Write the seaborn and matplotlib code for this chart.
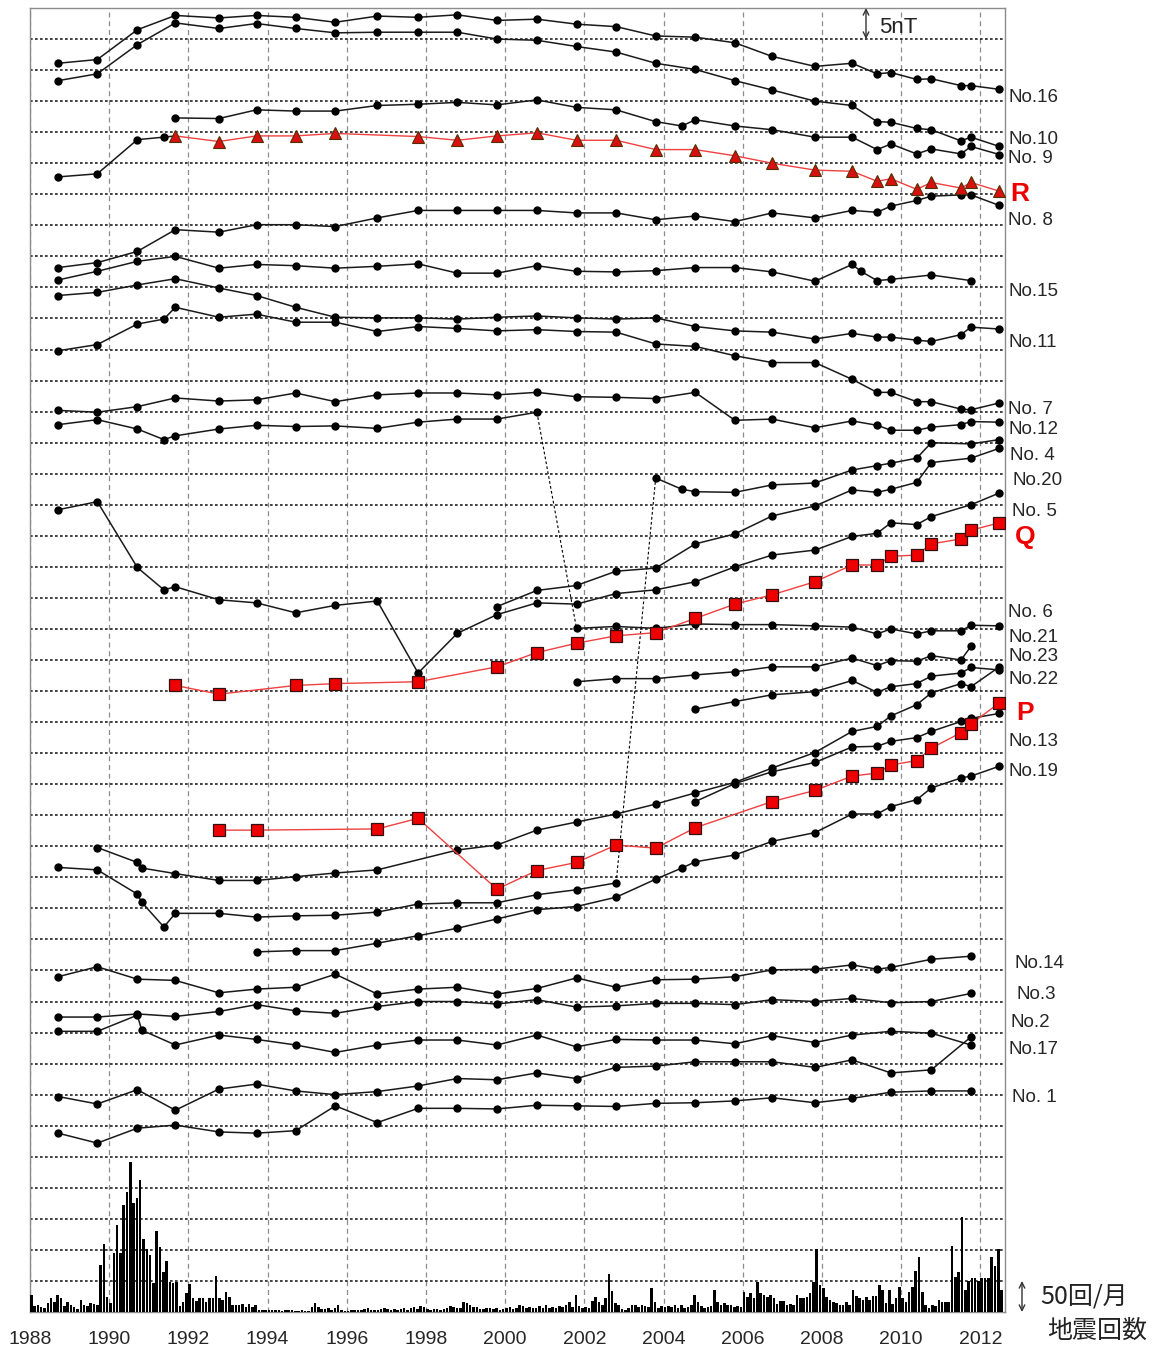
import matplotlib
matplotlib.use("Agg")
import numpy as np
import pandas as pd
import matplotlib.pyplot as plt
import seaborn as sns

sns.set_style("white")
plt.rcParams['font.family'] = ['Liberation Sans', 'DejaVu Sans']

# survey epochs (decimal year)
T = [1988.71, 1989.70, 1990.71, 1991.67, 1992.77, 1993.72, 1994.71, 1995.71,
     1996.77, 1997.80, 1998.79, 1999.79, 2000.80, 2001.80, 2002.80, 2003.80,
     2004.80, 2005.80, 2006.74, 2007.82, 2008.76, 2009.39, 2009.74, 2010.39,
     2010.76, 2011.51, 2011.76, 2012.48]

# relative total force (nT, offset per station)
no16_t = T
no16_v = [201.1, 201.7, 206.5, 208.8, 208.4, 208.8, 208.5, 207.7, 208.7, 208.5, 208.9, 208.0, 208.2, 207.4,
          207.0, 205.5, 205.3, 204.4, 202.2, 200.6, 201.1, 199.4, 199.6, 198.5, 198.6, 197.5, 197.5, 196.9]
no10_t = T
no10_v = [198.3, 199.4, 204.1, 207.6, 206.7, 207.5, 206.7, 206.0, 206.1, 206.1, 206.1, 205.0, 204.8, 203.8,
          202.9, 201.1, 200.1, 198.3, 196.8, 195.0, 194.3, 191.7, 191.6, 190.6, 190.4, 188.6, 189.2, 187.7]
no9_t = T[3:16] + [2004.46] + T[16:]
no9_v = [192.3, 192.2, 193.6, 193.4, 193.4, 194.3, 194.5, 194.8, 194.4, 195.2, 194.0, 193.6, 191.7, 191.0,
         192.0, 191.0, 190.4, 189.2, 189.2, 187.2, 188.1, 186.5, 187.3, 186.5, 187.7, 186.4]
r_lead_t = T[:3] + [1991.38, T[3]]
r_lead_v = [182.8, 183.3, 188.8, 189.2, 189.4]
r_t = T[3:8] + T[9:]
r_v = [189.4, 188.5, 189.4, 189.4, 189.8, 189.3, 188.7, 189.4, 189.9, 188.7, 188.7, 187.2, 187.2, 186.2,
       185.0, 183.9, 183.7, 182.1, 182.5, 180.8, 181.9, 181.0, 181.9, 180.5]
no8_t = T
no8_v = [168.2, 169.0, 170.8, 174.3, 173.9, 175.1, 175.1, 174.8, 176.2, 177.4, 177.4, 177.4, 177.4, 177.0,
         177.0, 175.9, 176.5, 175.6, 177.0, 176.2, 177.4, 177.1, 178.1, 179.0, 179.7, 179.9, 179.9, 178.2]
no15_t = T[:21] + [2008.98, T[21], T[22], T[24], T[26]]
no15_v = [166.2, 167.6, 169.2, 170.0, 168.1, 168.7, 168.5, 168.1, 168.4, 168.8, 167.3, 167.3, 168.5, 167.6,
          167.5, 167.7, 168.2, 168.2, 167.5, 166.0, 168.7, 167.6, 166.1, 166.3, 167.0, 166.1]
no11_t = T
no11_v = [163.7, 164.2, 165.4, 166.4, 164.9, 163.7, 161.8, 160.2, 160.1, 160.1, 159.9, 160.2, 160.4, 160.1,
          159.9, 160.1, 158.7, 158.0, 157.8, 156.7, 157.6, 157.0, 157.0, 156.5, 156.3, 157.4, 158.6, 158.3]
no7_t = T[:3] + [1991.38] + T[3:]
no7_v = [154.8, 155.8, 159.1, 159.9, 161.8, 160.2, 160.7, 159.4, 159.4, 157.9, 158.7, 158.4, 158.0, 158.2,
         157.9, 157.8, 155.9, 155.5, 154.0, 152.9, 152.9, 150.2, 148.1, 148.1, 146.6, 146.6, 145.4, 145.3, 146.4]
no12_t = T
no12_v = [145.2, 144.9, 145.8, 147.2, 146.7, 146.9, 148.0, 146.6, 147.7, 148.0, 148.0, 147.7, 148.1, 147.4,
          147.3, 147.1, 148.1, 143.6, 143.8, 142.4, 143.5, 142.8, 142.0, 142.0, 142.5, 142.9, 143.4, 143.3]
old_a_t = T[:3] + [1991.38] + T[3:13]
old_a_v = [142.9, 143.7, 142.2, 140.5, 141.1, 142.2, 142.8, 142.6, 142.7, 142.3, 143.3, 143.8, 143.8, 144.9]
no21_t = T[13:]
no21_v = [110.1, 110.4, 110.1, 110.8, 110.7, 110.7, 110.5, 110.3, 109.2, 110.0, 109.2, 109.7, 109.7, 110.6, 110.5]
no4_t = [T[15], 2004.46] + T[16:25] + [T[26], T[27]]
no4_v = [134.3, 132.5, 132.1, 132.0, 133.2, 133.5, 135.6, 136.3, 136.7, 137.5, 140.0, 139.8, 140.5]
no20_t = T[11:25] + [T[26], T[27]]
no20_v = [113.6, 116.2, 117.0, 119.3, 119.8, 123.7, 125.3, 128.2, 129.8, 132.4, 132.0, 132.5, 133.6, 136.8,
          137.5, 139.1]
no5_t = T[:3] + [1991.38] + T[3:25] + [T[26], T[27]]
no5_v = [129.2, 130.5, 119.9, 116.3, 116.8, 114.7, 114.2, 112.6, 113.8, 114.5, 102.9, 109.3, 112.3, 114.2,
         114.0, 115.7, 116.3, 117.6, 120.0, 121.9, 122.7, 124.9, 125.4, 127.1, 126.8, 128.1, 130.0, 131.9]
q_t = [T[3], T[4], T[6], T[7], T[9]] + T[11:]
q_v = [100.9, 99.5, 100.9, 101.2, 101.5, 103.9, 106.2, 107.7, 108.9, 109.4, 111.7, 114.0, 115.5, 117.6,
       120.3, 120.3, 121.7, 121.9, 123.7, 124.5, 125.9, 127.1]
no23_t = T[13:27]
no23_v = [101.5, 102.0, 102.0, 102.6, 103.1, 103.9, 103.9, 105.3, 104.1, 104.9, 104.8, 105.7, 105.0, 107.2]
no22_t = T[16:]
no22_v = [97.1, 98.3, 99.4, 99.9, 101.7, 99.8, 100.7, 101.2, 102.4, 102.9, 103.8, 103.4]
p_t = [T[4], T[5], T[8], T[9]] + T[11:17] + T[18:]
p_v = [77.6, 77.6, 77.8, 79.5, 68.1, 71.1, 72.4, 75.2, 74.7, 78.0, 82.2, 84.0, 86.3, 86.8, 88.1, 88.8,
       90.8, 93.3, 94.7, 98.1]
no13_t = [T[1], T[2], 1990.82] + T[3:9] + T[10:]
no13_v = [74.8, 72.4, 71.5, 70.6, 69.5, 69.5, 70.1, 70.7, 71.2, 74.4, 75.2, 77.6, 78.9, 80.2, 81.8, 83.6,
          85.3, 87.6, 90.1, 93.5, 94.3, 96.0, 97.8, 99.7, 101.2, 100.7, 103.9]
no13b_t = T[16:]
no13b_v = [82.2, 85.1, 87.0, 88.5, 91.0, 91.1, 91.9, 92.5, 93.5, 95.1, 95.6, 96.4]
old_b_t = T[:3] + [1990.82, 1991.38] + T[3:15]
old_b_v = [71.6, 71.2, 67.3, 66.0, 62.0, 64.2, 64.2, 63.6, 63.8, 63.9, 64.4, 65.7, 65.9, 65.9, 67.2, 68.0, 69.1]
no19_t = T[5:16] + [2004.46] + T[16:]
no19_v = [58.0, 58.2, 58.2, 59.4, 60.6, 61.8, 63.3, 64.8, 65.3, 66.8, 69.7, 71.5, 72.5, 73.6, 75.8, 77.2,
          80.2, 80.2, 81.4, 82.5, 84.4, 86.0, 86.3, 87.9]
no14_t = T[:23] + [T[24], T[26]]
no14_v = [54.0, 55.6, 53.6, 53.4, 51.4, 52.0, 52.3, 54.4, 51.2, 52.0, 52.3, 51.2, 52.1, 53.8, 52.3, 53.5,
          53.6, 54.0, 55.1, 55.2, 55.9, 55.2, 55.5, 56.8, 57.3]
no3_t = T[:21] + [T[22], T[24], T[26]]
no3_v = [47.5, 47.5, 48.0, 47.6, 48.4, 49.5, 48.5, 48.1, 49.2, 50.0, 50.0, 49.6, 50.3, 49.1, 49.3, 49.7,
         49.7, 49.5, 50.3, 50.0, 50.5, 49.8, 50.0, 51.3]
no2_t = T[:3] + [1990.82] + T[3:21] + [T[22], T[24], T[26]]
no2_v = [45.2, 45.2, 47.8, 45.4, 43.0, 44.6, 43.9, 43.0, 41.8, 43.0, 43.8, 43.8, 43.0, 44.6, 42.7, 43.9,
         43.8, 43.8, 43.2, 44.5, 43.4, 44.6, 45.2, 44.9, 43.0]
no17_t = T[:21] + [T[22], T[24], T[26]]
no17_v = [34.7, 33.5, 35.8, 32.5, 35.9, 36.7, 35.6, 35.0, 35.5, 36.4, 37.6, 37.4, 38.5, 37.6, 39.4, 39.6,
          40.3, 40.3, 40.3, 39.4, 40.6, 38.5, 39.0, 44.3]
no1_t = T[:21] + [T[22], T[24], T[26]]
no1_v = [28.8, 27.2, 29.6, 30.1, 29.0, 28.8, 29.2, 33.2, 30.5, 32.8, 32.8, 32.7, 33.3, 33.2, 33.1, 33.6,
         33.7, 34.0, 34.5, 33.7, 34.4, 35.4, 35.6, 35.6]

# monthly earthquake counts, Jan 1988 onward
quakes = [
    28, 10, 12, 8, 7, 14, 22, 16, 27, 22, 10, 16,
    12, 8, 5, 20, 11, 9, 15, 13, 12, 75, 110, 24,
    15, 95, 140, 95, 172, 193, 242, 175, 183, 213, 118, 101,
    91, 46, 131, 105, 65, 82, 48, 47, 48, 9, 16, 31,
    45, 23, 18, 23, 23, 16, 22, 23, 58, 22, 20, 32,
    24, 11, 12, 11, 13, 8, 13, 8, 11, 4, 3, 4,
    4, 3, 4, 4, 2, 4, 3, 4, 2, 2, 3, 1,
    2, 8, 15, 8, 5, 5, 6, 4, 7, 11, 3, 2,
    2, 3, 4, 3, 4, 5, 6, 4, 3, 4, 5, 7,
    5, 4, 5, 4, 5, 6, 4, 7, 8, 5, 9, 8,
    5, 4, 5, 5, 4, 5, 7, 9, 8, 6, 7, 16,
    15, 12, 8, 8, 5, 5, 6, 7, 5, 6, 4, 5,
    6, 8, 5, 7, 12, 9, 7, 8, 6, 7, 10, 6,
    11, 7, 8, 6, 9, 8, 12, 16, 8, 27, 9, 6,
    8, 6, 18, 24, 16, 12, 22, 61, 34, 15, 12, 5,
    3, 6, 12, 12, 8, 12, 9, 8, 39, 16, 6, 9,
    8, 10, 8, 12, 7, 12, 6, 8, 12, 28, 16, 9,
    6, 8, 9, 35, 16, 12, 15, 12, 11, 8, 9, 8,
    32, 24, 30, 22, 49, 30, 27, 24, 28, 22, 13, 18,
    18, 11, 13, 12, 27, 23, 23, 24, 30, 48, 102, 43,
    39, 24, 20, 16, 15, 12, 12, 16, 11, 36, 25, 22,
    19, 24, 20, 25, 26, 43, 35, 15, 35, 13, 22, 41,
    22, 16, 32, 40, 66, 89, 32, 12, 6, 11, 9, 20,
    16, 16, 16, 106, 56, 65, 153, 36, 50, 55, 55, 50,
    55, 55, 54, 88, 74, 102, 36,
]

black_series = [(no16_t, no16_v), (no10_t, no10_v), (no9_t, no9_v), (no8_t, no8_v),
                (no15_t, no15_v), (no11_t, no11_v), (no7_t, no7_v), (no12_t, no12_v),
                (old_a_t, old_a_v), (no21_t, no21_v), (no4_t, no4_v), (no20_t, no20_v),
                (no5_t, no5_v), (no23_t, no23_v), (no22_t, no22_v), (no13_t, no13_v),
                (no13b_t, no13b_v), (old_b_t, old_b_v), (no19_t, no19_v), (no14_t, no14_v),
                (no3_t, no3_v), (no2_t, no2_v), (no17_t, no17_v), (no1_t, no1_v)]

# station relocations joined by thin dashed lines
links = [(old_a_t[-1], old_a_v[-1], no21_t[0], no21_v[0]),
         (old_b_t[-1], old_b_v[-1], no4_t[0], no4_v[0])]

labels = [("No.16", 2012.70, 195.6), ("No.10", 2012.70, 188.8), ("No. 9", 2012.70, 185.7),
          ("No. 8", 2012.70, 175.7), ("No.15", 2012.70, 164.3), ("No.11", 2012.70, 156.1),
          ("No. 7", 2012.70, 145.3), ("No.12", 2012.70, 142.1), ("No. 4", 2012.75, 137.9),
          ("No.20", 2012.80, 133.9), ("No. 5", 2012.80, 128.9), ("No. 6", 2012.70, 112.6),
          ("No.21", 2012.70, 108.7), ("No.23", 2012.70, 105.5), ("No.22", 2012.70, 101.8),
          ("No.13", 2012.70, 91.8), ("No.19", 2012.70, 87.0), ("No.14", 2012.85, 56.1),
          ("No.3", 2012.90, 51.1), ("No.2", 2012.75, 46.6), ("No.17", 2012.70, 42.2),
          ("No. 1", 2012.80, 34.6)]
red_labels = [("R", 2012.75, 180.0), ("Q", 2012.88, 124.8), ("P", 2012.90, 96.5)]

fig = plt.figure(figsize=(11.63, 13.49), dpi=100)
ax = fig.add_axes([30 / 1163, 1 - 1312 / 1349, 975 / 1163, 1304 / 1349])

# earthquake counts on a twin axis (50 per grid step)
ax2 = ax.twinx()
months = 1988 + np.arange(len(quakes)) / 12
ax2.bar(months, quakes, width=0.065, align='edge', color='black', linewidth=0)
ax2.set_ylim(0, 2100)
ax2.set_yticks([])
for s in ax2.spines.values():
    s.set_visible(False)

for t, v in black_series:
    sns.lineplot(x=t, y=v, ax=ax, color='#1a1a1a', linewidth=1.1, marker='o', markersize=6,
                 markeredgewidth=0, markerfacecolor='black', sort=False, estimator=None, zorder=3)

sns.lineplot(x=r_lead_t, y=r_lead_v, ax=ax, color='#1a1a1a', linewidth=1.1, marker='o', markersize=6,
             markeredgewidth=0, markerfacecolor='black', markevery=[0, 1, 2, 3], sort=False,
             estimator=None, zorder=3)

for x0, y0, x1, y1 in links:
    sns.lineplot(x=[x0, x1], y=[y0, y1], ax=ax, color='black', linewidth=0.8,
                 linestyle=(0, (2.5, 2)), sort=False, estimator=None, zorder=2)

sns.lineplot(x=r_t, y=r_v, ax=ax, color='#f04040', linewidth=1.0, marker='^', markersize=8.5,
             markerfacecolor='#d81010', markeredgecolor='#503000', markeredgewidth=0.8,
             sort=False, estimator=None, zorder=4)
for t, v in [(q_t, q_v), (p_t, p_v)]:
    sns.lineplot(x=t, y=v, ax=ax, color='#f04040', linewidth=1.0, marker='s', markersize=9,
                 markerfacecolor='#ee0000', markeredgecolor='#301010', markeredgewidth=0.9,
                 sort=False, estimator=None, zorder=4)

ax.set_xlim(1988, 2012.62)
ax.set_ylim(0, 210)
ax.set_yticks(np.arange(5, 210, 5))
ax.set_yticklabels([])
ax.tick_params(axis='y', length=0)
ax.set_xticks(np.arange(1988, 2013, 2))
ax.set_xticks(np.arange(1988, 2013, 1), minor=True)
ax.tick_params(axis='x', which='major', direction='out', length=5, width=0.8, color='#666',
               labelsize=14, pad=9)
ax.tick_params(axis='x', which='minor', direction='out', length=3, width=0.8, color='#666')
ax.grid(axis='y', color='#222222', linestyle=(0, (1.6, 1.4)), linewidth=1.2)
ax.grid(axis='x', which='major', color='#8c8c8c', linestyle=(0, (4, 3)), linewidth=0.9)
ax.set_axisbelow(True)
ax.set_xlabel('')
ax.set_ylabel('')
for s in ax.spines.values():
    s.set_color('#8c8c8c')
    s.set_linewidth(1.0)

for name, x, y in labels:
    ax.text(x, y, name, fontsize=13.5, ha='left', va='center', clip_on=False)
for name, x, y in red_labels:
    ax.text(x, y, name, fontsize=19, fontweight='bold', color='#ee0000', ha='left', va='center',
            clip_on=False)

# 5 nT scale
ax.annotate('', xy=(2009.11, 210), xytext=(2009.11, 205),
            arrowprops=dict(arrowstyle='<->', color='#333', lw=1.0, shrinkA=0, shrinkB=0))
ax.text(2009.45, 206.9, '5nT', fontsize=16, ha='left', va='center', color='#222')

# 50 counts per month scale
cjk = ['Noto Sans CJK JP', 'DejaVu Sans']
ax.annotate('', xy=(1022 / 1163, 1 - 1281 / 1349), xytext=(1022 / 1163, 1 - 1312 / 1349),
            xycoords='figure fraction', textcoords='figure fraction',
            arrowprops=dict(arrowstyle='<->', color='#333', lw=1.0, shrinkA=0, shrinkB=0))
fig.text(1040 / 1163, 1 - 1297 / 1349, '50回/月', fontsize=18, family=cjk, ha='left', va='center',
         color='#222')
fig.text(1097 / 1163, 1 - 1331 / 1349, '地震回数', fontsize=18, family=cjk, ha='center', va='center',
         color='#222')

fig.savefig('out.png', dpi=100)
